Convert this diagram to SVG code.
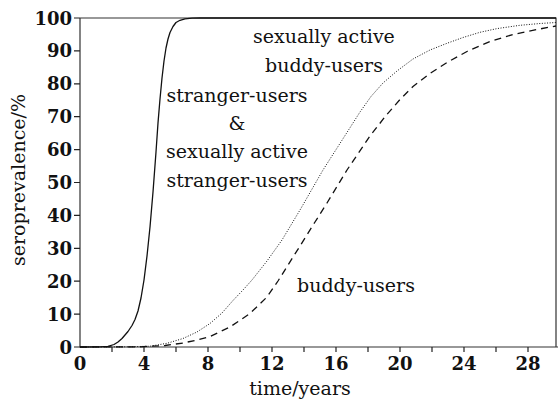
<svg xmlns="http://www.w3.org/2000/svg" width="558" height="405" viewBox="0 0 558 405">
<style>
.ax{stroke:#333;stroke-width:1.2;fill:none}
.tk{stroke:#222;stroke-width:1.2}
.num{font-family:"DejaVu Serif","Liberation Serif",serif;font-weight:bold;font-size:18px;fill:#111}
.lbl{font-family:"DejaVu Serif","Liberation Serif",serif;font-size:19px;fill:#111}
.cv{fill:none;stroke:#111;stroke-linejoin:round;stroke-linecap:butt}
</style>
<rect width="558" height="405" fill="#fff"/>
<g id="axes">
<path class="ax" d="M80,18 V347 H558 M80,18 H556 V347"/>
<g class="tk">
<path d="M74,18H80M74,50.9H80M74,83.8H80M74,116.7H80M74,149.6H80M74,182.5H80M74,215.4H80M74,248.3H80M74,281.2H80M74,314.1H80M74,347H80"/>
<path d="M112,347V352M144,347V352M176,347V352M208,347V352M240,347V352M272,347V352M304,347V352M336,347V352M368,347V352M400,347V352M432,347V352M464,347V352M496,347V352M528,347V352"/>
</g>
</g>
<g id="y-labels" class="num" text-anchor="end">
<text x="72" y="24.5">100</text>
<text x="72" y="57.4">90</text>
<text x="72" y="90.3">80</text>
<text x="72" y="123.2">70</text>
<text x="72" y="156.1">60</text>
<text x="72" y="189">50</text>
<text x="72" y="221.9">40</text>
<text x="72" y="254.8">30</text>
<text x="72" y="287.7">20</text>
<text x="72" y="320.6">10</text>
<text x="72" y="353.5">0</text>
</g>
<g id="x-labels" class="num" text-anchor="middle">
<text x="80" y="370">0</text>
<text x="144" y="370">4</text>
<text x="208" y="370">8</text>
<text x="272" y="370">12</text>
<text x="336" y="370">16</text>
<text x="400" y="370">20</text>
<text x="464" y="370">24</text>
<text x="528" y="370">28</text>
</g>
<g id="axis-titles" class="lbl">
<text x="300" y="395" text-anchor="middle">time/years</text>
<text transform="translate(25,180) rotate(-90)" text-anchor="middle">seroprevalence/%</text>
</g>
<g id="curves">
<polyline id="stranger" class="cv" stroke-width="1.3" points="80,347 100,346.8 108,346.3 114,344.5 118,342 122,338.5 125,335 128,331.5 132,325.5 135,319.5 138,311 141,298 144,280 147,256 150,227 153,192 156,152 158,123 160,99 162,78 164,61 166,48 168,39 170,32.5 173,26.5 176,22.5 180,20.3 185,18.8 192,18.2 200,18 556,18"/>
<polyline id="sexually-active-buddy" class="cv" stroke-width="1" stroke-dasharray="1 1.6" points="80,347 130,346.8 150,346.2 167,343.3 183,338.5 197,332 210,323.5 222,313 233,300.5 243,290 252,280 267,261 282,240 300,210 323,170 346,134 360,112 371,96.5 383,83 397,71 413,59 430,50 447,43.3 463,37.5 480,32.3 497,28.6 520,25.3 540,23.5 556,22.5"/>
<polyline id="buddy" class="cv" stroke-width="1.3" stroke-dasharray="7 5" points="80,347 140,346.8 165,345.5 183,343 197,340 210,336.5 230,327 250,313.5 267,297 278,281 300,246 315,222 327,203 347,170 370,136 386,115.5 400,99.5 413,86.5 430,73.5 447,62.5 467,51.5 490,41.5 513,34.5 537,29.5 556,26"/>
</g>
<g id="curve-labels" class="lbl">
<text x="253" y="43">sexually active</text>
<text x="265" y="72">buddy-users</text>
<text x="237" y="102" text-anchor="middle">stranger-users</text>
<text x="237" y="130" text-anchor="middle">&amp;</text>
<text x="237" y="158" text-anchor="middle">sexually active</text>
<text x="237" y="187" text-anchor="middle">stranger-users</text>
<text x="297" y="292">buddy-users</text>
</g>
</svg>
